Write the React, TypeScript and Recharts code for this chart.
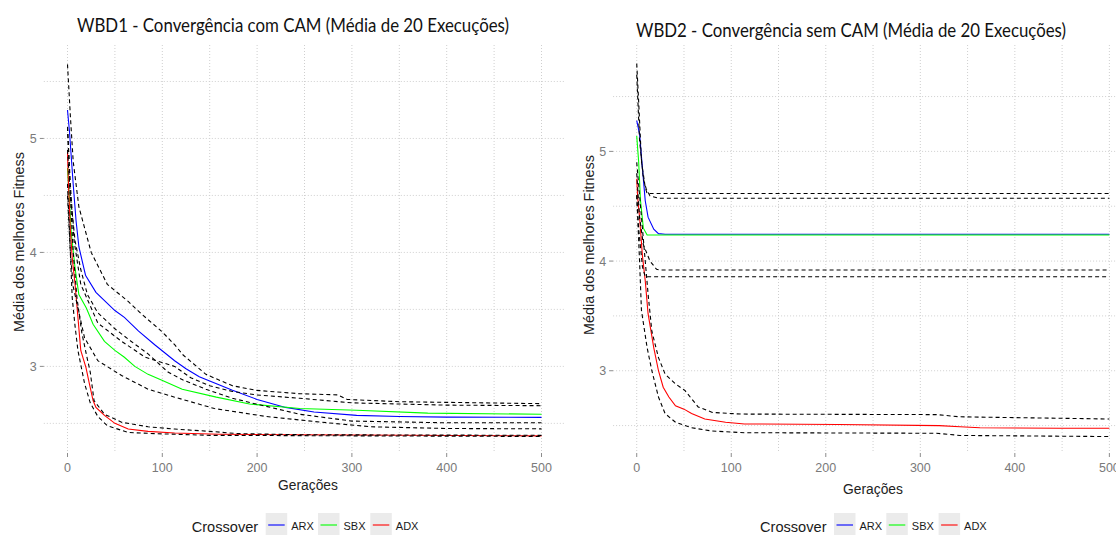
import React from "react"
import { LineChart, Line, XAxis, YAxis, CartesianGrid } from "recharts"

type Pt = [number, number]

// WBD1 - com CAM (geração, média dos melhores fitness)
const wbd1Arx: Pt[] = [[0, 5.25], [2, 5.07], [6, 4.6], [9, 4.28], [12, 4.05], [19, 3.8], [30, 3.65], [50, 3.49], [60, 3.43], [75, 3.31], [92, 3.19], [113, 3.05], [125, 2.98], [139, 2.91], [174, 2.79], [200, 2.71], [230, 2.64], [260, 2.6], [305, 2.57], [350, 2.56], [400, 2.555], [500, 2.553]]
const wbd1Sbx: Pt[] = [[0, 4.74], [2, 4.46], [4, 4.17], [8, 3.86], [12, 3.63], [20, 3.51], [27, 3.37], [39, 3.22], [50, 3.14], [60, 3.08], [71, 3.0], [85, 2.93], [99, 2.88], [121, 2.8], [157, 2.73], [192, 2.67], [245, 2.63], [305, 2.615], [380, 2.59], [500, 2.58]]
const wbd1Adx: Pt[] = [[0, 4.88], [1, 4.6], [3, 4.2], [5, 3.95], [8, 3.72], [11, 3.43], [14, 3.14], [19.5, 2.99], [23, 2.85], [27, 2.7], [30, 2.64], [39, 2.57], [50, 2.5], [64, 2.45], [85, 2.43], [113, 2.415], [160, 2.405], [245, 2.4], [500, 2.39]]
const wbd1ArxHi: Pt[] = [[0, 5.65], [3, 5.2], [6, 4.8], [12, 4.4], [25, 4.0], [42, 3.72], [64, 3.57], [78, 3.46], [99, 3.31], [113, 3.19], [122, 3.1], [146, 2.93], [174, 2.83], [199, 2.79], [245, 2.76], [285, 2.75], [295, 2.71], [350, 2.69], [500, 2.673]]
const wbd1ArxLo: Pt[] = [[0, 4.9], [3, 4.5], [8, 4.1], [14, 3.85], [21, 3.63], [32, 3.47], [50, 3.33], [67, 3.22], [85, 3.11], [106, 2.95], [122, 2.88], [146, 2.8], [174, 2.72], [199, 2.67], [245, 2.58], [300, 2.52], [400, 2.505], [500, 2.505]]
const wbd1SbxHi: Pt[] = [[0, 5.1], [3, 4.6], [7, 4.1], [14, 3.72], [32, 3.38], [57, 3.22], [82, 3.08], [113, 3.0], [130, 2.9], [150, 2.83], [174, 2.78], [199, 2.75], [245, 2.72], [300, 2.68], [400, 2.66], [500, 2.655]]
const wbd1SbxLo: Pt[] = [[0, 4.5], [3, 4.0], [6, 3.7], [10, 3.55], [18, 3.25], [32, 3.05], [57, 2.92], [85, 2.8], [113, 2.73], [155, 2.63], [210, 2.56], [268, 2.51], [320, 2.47], [400, 2.455], [500, 2.452]]
const wbd1AdxHi: Pt[] = [[0, 5.1], [3, 4.5], [6, 4.0], [10, 3.6], [15, 3.3], [20, 3.1], [24, 2.95], [28, 2.7], [39, 2.58], [57, 2.51], [85, 2.47], [113, 2.45], [150, 2.43], [180, 2.41], [250, 2.4], [500, 2.395]]
const wbd1AdxLo: Pt[] = [[0, 4.6], [2, 4.2], [5, 3.6], [8, 3.35], [11, 3.14], [18, 2.85], [24, 2.68], [32, 2.56], [42, 2.48], [64, 2.42], [92, 2.41], [150, 2.395], [500, 2.385]]

// WBD2 - sem CAM
const wbd2Arx: Pt[] = [[0, 5.28], [3, 5.16], [6, 4.85], [9, 4.55], [12, 4.4], [18, 4.29], [23, 4.25], [30, 4.244], [500, 4.244]]
const wbd2Sbx: Pt[] = [[0, 5.14], [2, 4.91], [4, 4.55], [7, 4.3], [11, 4.238], [500, 4.238]]
const wbd2Adx: Pt[] = [[0, 4.75], [1, 4.58], [3, 4.4], [6, 4.05], [9, 3.82], [12, 3.52], [18, 3.21], [23, 3.0], [28, 2.85], [34, 2.76], [41, 2.68], [50, 2.65], [58, 2.61], [72, 2.56], [94, 2.53], [114, 2.515], [213, 2.51], [320, 2.5], [342, 2.49], [363, 2.48], [447, 2.475], [500, 2.475]]
const wbd2ArxHi: Pt[] = [[0, 5.8], [2, 5.46], [5, 4.91], [9, 4.67], [11, 4.616], [500, 4.616]]
const wbd2ArxLo: Pt[] = [[0, 4.8], [3, 4.4], [7, 4.15], [14, 4.0], [21, 3.925], [25, 3.918], [500, 3.918]]
const wbd2SbxHi: Pt[] = [[0, 5.7], [3, 5.1], [7, 4.75], [10, 4.66], [14, 4.595], [23, 4.573], [500, 4.573]]
const wbd2SbxLo: Pt[] = [[0, 4.6], [2, 4.3], [6, 3.95], [9, 3.857], [500, 3.857]]
const wbd2AdxHi: Pt[] = [[0, 4.9], [3, 4.6], [7, 4.2], [12, 3.7], [16, 3.36], [23, 3.12], [30, 2.97], [41, 2.88], [51, 2.82], [65, 2.67], [80, 2.62], [110, 2.605], [317, 2.6], [342, 2.58], [500, 2.56]]
const wbd2AdxLo: Pt[] = [[0, 4.6], [3, 4.0], [5, 3.55], [11, 3.21], [16, 3.0], [23, 2.76], [30, 2.61], [41, 2.53], [58, 2.48], [80, 2.45], [114, 2.435], [317, 2.43], [342, 2.41], [500, 2.4]]

const SERIES = ["ARX", "SBX", "ADX"]
const COLORS = ["#0000ff", "#00ff00", "#ff0000"]
const GEN_TICKS = [0, 100, 200, 300, 400, 500]
const GEN_GRID = [0, 50, 100, 150, 200, 250, 300, 350, 400, 450, 500]
const FIT_TICKS = [3, 4, 5]
const FIT_GRID = [2.5, 3, 3.5, 4, 4.5, 5, 5.5]

const rows = (pts: Pt[]) => pts.map(([g, v]) => ({ g, v }))

const tickStyle = { fill: "#7a7a7a", fontSize: 12.5, fontFamily: "Liberation Sans, Arial, sans-serif" }

function Panel({ left, plotLeft, plotRight, yDomain, means, bands }: any) {
  const W = 570
  return (
    <div style={{ position: "absolute", left, top: 0 }}>
      <LineChart
        width={W}
        height={535}
        margin={{ top: 45, left: plotLeft - 30, right: W - plotRight, bottom: 52 }}
      >
        <CartesianGrid
          stroke="#cfcfcf"
          strokeDasharray="1 2"
          horizontalValues={FIT_GRID}
          verticalValues={GEN_GRID}
        />
        <XAxis
          type="number"
          dataKey="g"
          domain={[-25, 525]}
          ticks={GEN_TICKS}
          allowDataOverflow
          height={30}
          axisLine={false}
          tickLine={{ stroke: "#8c8c8c" }}
          tickSize={4}
          tickMargin={6}
          tick={tickStyle}
        />
        <YAxis
          type="number"
          domain={yDomain}
          ticks={FIT_TICKS}
          allowDataOverflow
          width={30}
          axisLine={false}
          tickLine={{ stroke: "#8c8c8c" }}
          tickSize={4}
          tickMargin={3}
          tick={tickStyle}
        />
        {means.map((d: Pt[], i: number) => (
          <Line
            key={SERIES[i]}
            data={rows(d)}
            dataKey="v"
            stroke={COLORS[i]}
            strokeWidth={1.1}
            dot={false}
            activeDot={false}
            isAnimationActive={false}
          />
        ))}
        {bands.map((d: Pt[], i: number) => (
          <Line
            key={"band" + i}
            data={rows(d)}
            dataKey="v"
            stroke="#000"
            strokeWidth={1.1}
            strokeDasharray="4 3"
            dot={false}
            activeDot={false}
            isAnimationActive={false}
          />
        ))}
      </LineChart>
    </div>
  )
}

function Legend({ x }: { x: number }) {
  return (
    <g>
      <text x={x} y={527} fontSize={14.6} fill="#1a1a1a" dominantBaseline="central" fontFamily="Liberation Sans, Arial, sans-serif">
        Crossover
      </text>
      {SERIES.map((s, i) => (
        <g key={s}>
          <rect x={x + 74 + i * 52.3} y={513} width={21.5} height={22} fill="#ebebeb" />
          <line x1={x + 76.5 + i * 52.3} x2={x + 93 + i * 52.3} y1={525} y2={525} stroke={COLORS[i]} strokeWidth={1.1} />
          <text x={x + 99.5 + i * 52.3} y={526} fontSize={11} fill="#1a1a1a" dominantBaseline="central" fontFamily="Liberation Sans, Arial, sans-serif">
            {s}
          </text>
        </g>
      ))}
    </g>
  )
}

export default function App() {
  const font = "Liberation Sans, Arial, sans-serif"
  return (
    <div style={{ position: "absolute", left: 0, top: 0, width: 1116, height: 535, overflow: "hidden", background: "#fff" }}>
      <Panel
        left={0}
        plotLeft={43.8}
        plotRight={565.2}
        yDomain={[2.24, 5.82]}
        means={[wbd1Arx, wbd1Sbx, wbd1Adx]}
        bands={[wbd1ArxHi, wbd1ArxLo, wbd1SbxHi, wbd1SbxLo, wbd1AdxHi, wbd1AdxLo]}
      />
      <Panel
        left={570}
        plotLeft={43.1}
        plotRight={563}
        yDomain={[2.25, 5.97]}
        means={[wbd2Arx, wbd2Sbx, wbd2Adx]}
        bands={[wbd2ArxHi, wbd2ArxLo, wbd2SbxHi, wbd2SbxLo, wbd2AdxHi, wbd2AdxLo]}
      />
      <svg width={1116} height={535} style={{ position: "absolute", left: 0, top: 0, pointerEvents: "none" }}>
        <text x={77} y={32} fontSize={19} fill="#111" fontFamily="Lato, sans-serif" textLength={432} lengthAdjust="spacingAndGlyphs">
          WBD1 - Convergência com CAM (Média de 20 Execuções)
        </text>
        <text x={636} y={37} fontSize={19} fill="#111" fontFamily="Lato, sans-serif" textLength={430} lengthAdjust="spacingAndGlyphs">
          WBD2 - Convergência sem CAM (Média de 20 Execuções)
        </text>
        <text transform="translate(19,242) rotate(-90)" textAnchor="middle" dominantBaseline="central" fontSize={14.4} fill="#222" fontFamily={font}>
          Média dos melhores Fitness
        </text>
        <text transform="translate(589,245) rotate(-90)" textAnchor="middle" dominantBaseline="central" fontSize={14.4} fill="#222" fontFamily={font}>
          Média dos melhores Fitness
        </text>
        <text x={308} y={485} textAnchor="middle" dominantBaseline="central" fontSize={13.8} fill="#222" fontFamily={font}>
          Gerações
        </text>
        <text x={873} y={489} textAnchor="middle" dominantBaseline="central" fontSize={13.8} fill="#222" fontFamily={font}>
          Gerações
        </text>
        <Legend x={191.7} />
        <Legend x={760} />
      </svg>
    </div>
  )
}
